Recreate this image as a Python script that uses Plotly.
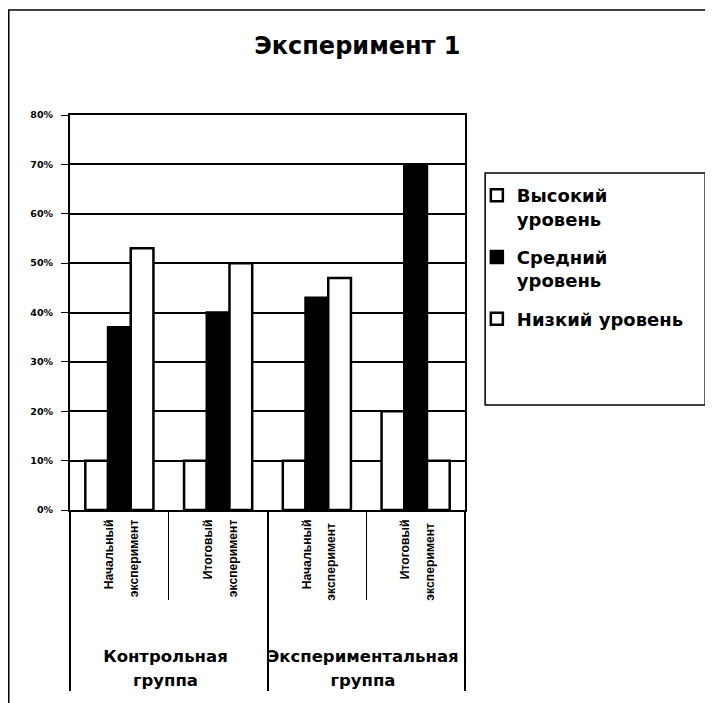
import plotly.graph_objects as go

GROUP_STYLE = "<span style='font-size:16.5px;font-family:DejaVu Sans;font-weight:bold'>"
STAGE_STYLE = "<span style='font-size:12.2px;font-weight:bold'>"
groups_text = ["Контрольная<br>группа", "Экспериментальная<br>группа"]
stages_text = [["Начальный", "эксперимент"], ["Итоговый", "эксперимент"],
               ["Начальный", "эксперимент "], ["Итоговый", "эксперимент "]]
groups = [GROUP_STYLE + "<br>" + groups_text[0] + "</span>"] * 2 + \
         [GROUP_STYLE + "<br>" + groups_text[1] + "</span>"] * 2
stages = [STAGE_STYLE + a + "</span><br>" + STAGE_STYLE + b + "</span>" for a, b in stages_text]
series_names = ["Высокий<br>уровень", "Средний<br>уровень", "Низкий уровень"]
high = [10, 10, 10, 20]
medium = [37, 40, 43, 70]
low = [53, 50, 47, 10]

FONT = "Liberation Sans, Arial, sans-serif"
WIDE = "DejaVu Sans, sans-serif"

fig = go.Figure()
for i, (name, vals, color) in enumerate(zip(series_names, [high, medium, low], ["white", "black", "white"])):
    fig.add_trace(go.Bar(
        x=[groups, stages], y=vals, name=name, legendgroup=f"g{i}",
        marker=dict(color=color, line=dict(color="black", width=2.5)),
    ))

fig.update_layout(
    width=713, height=703,
    margin=dict(l=62, r=256, t=107, b=201),
    paper_bgcolor="white", plot_bgcolor="white",
    barmode="group", bargap=0.31, bargroupgap=0,
    title=dict(text="Эксперимент 1", x=0.49, xanchor="center", y=0.947, yanchor="middle",
               font=dict(family=WIDE, size=24, color="black", weight="bold")),
    font=dict(family=FONT, color="black"),
    showlegend=True,
    legend=dict(x=1.03, y=0.843, xanchor="left", yanchor="top", valign="top",
                font=dict(family=WIDE, size=18, color="black", weight="bold"),
                bgcolor="rgba(0,0,0,0)", borderwidth=0,
                tracegroupgap=12, itemwidth=30, traceorder="grouped"),
)
fig.update_yaxes(range=[0, 80], dtick=10, ticksuffix="%",
                 showgrid=True, gridcolor="black", gridwidth=1.5,
                 showline=True, linecolor="black", linewidth=2, mirror=True,
                 ticks="outside", ticklen=7, tickcolor="black", ticklabelstandoff=6,
                 tickfont=dict(family=WIDE, size=9.5, color="black", weight="bold"),
                 zeroline=False, fixedrange=True)
fig.update_xaxes(type="multicategory", showline=True, linecolor="black", linewidth=2, mirror=True,
                 tickson="boundaries", ticks="outside", ticklen=88, tickcolor="black",
                 showdividers=True, dividercolor="black", dividerwidth=1.5,
                 tickangle=-90,
                 tickfont=dict(family=FONT, size=19, color="black", weight="bold"))

# legend frame and outer frame
fig.add_shape(type="rect", xref="paper", yref="paper", x0=1.051, x1=1.608, y0=0.266, y1=0.853,
              line=dict(color="black", width=1.5), fillcolor="rgba(0,0,0,0)")
fig.add_shape(type="rect", xref="paper", yref="paper", x0=-0.155, x1=1.61, y0=-0.6, y1=1.266,
              line=dict(color="black", width=1.5), fillcolor="rgba(0,0,0,0)")

fig.write_html("out.html")
